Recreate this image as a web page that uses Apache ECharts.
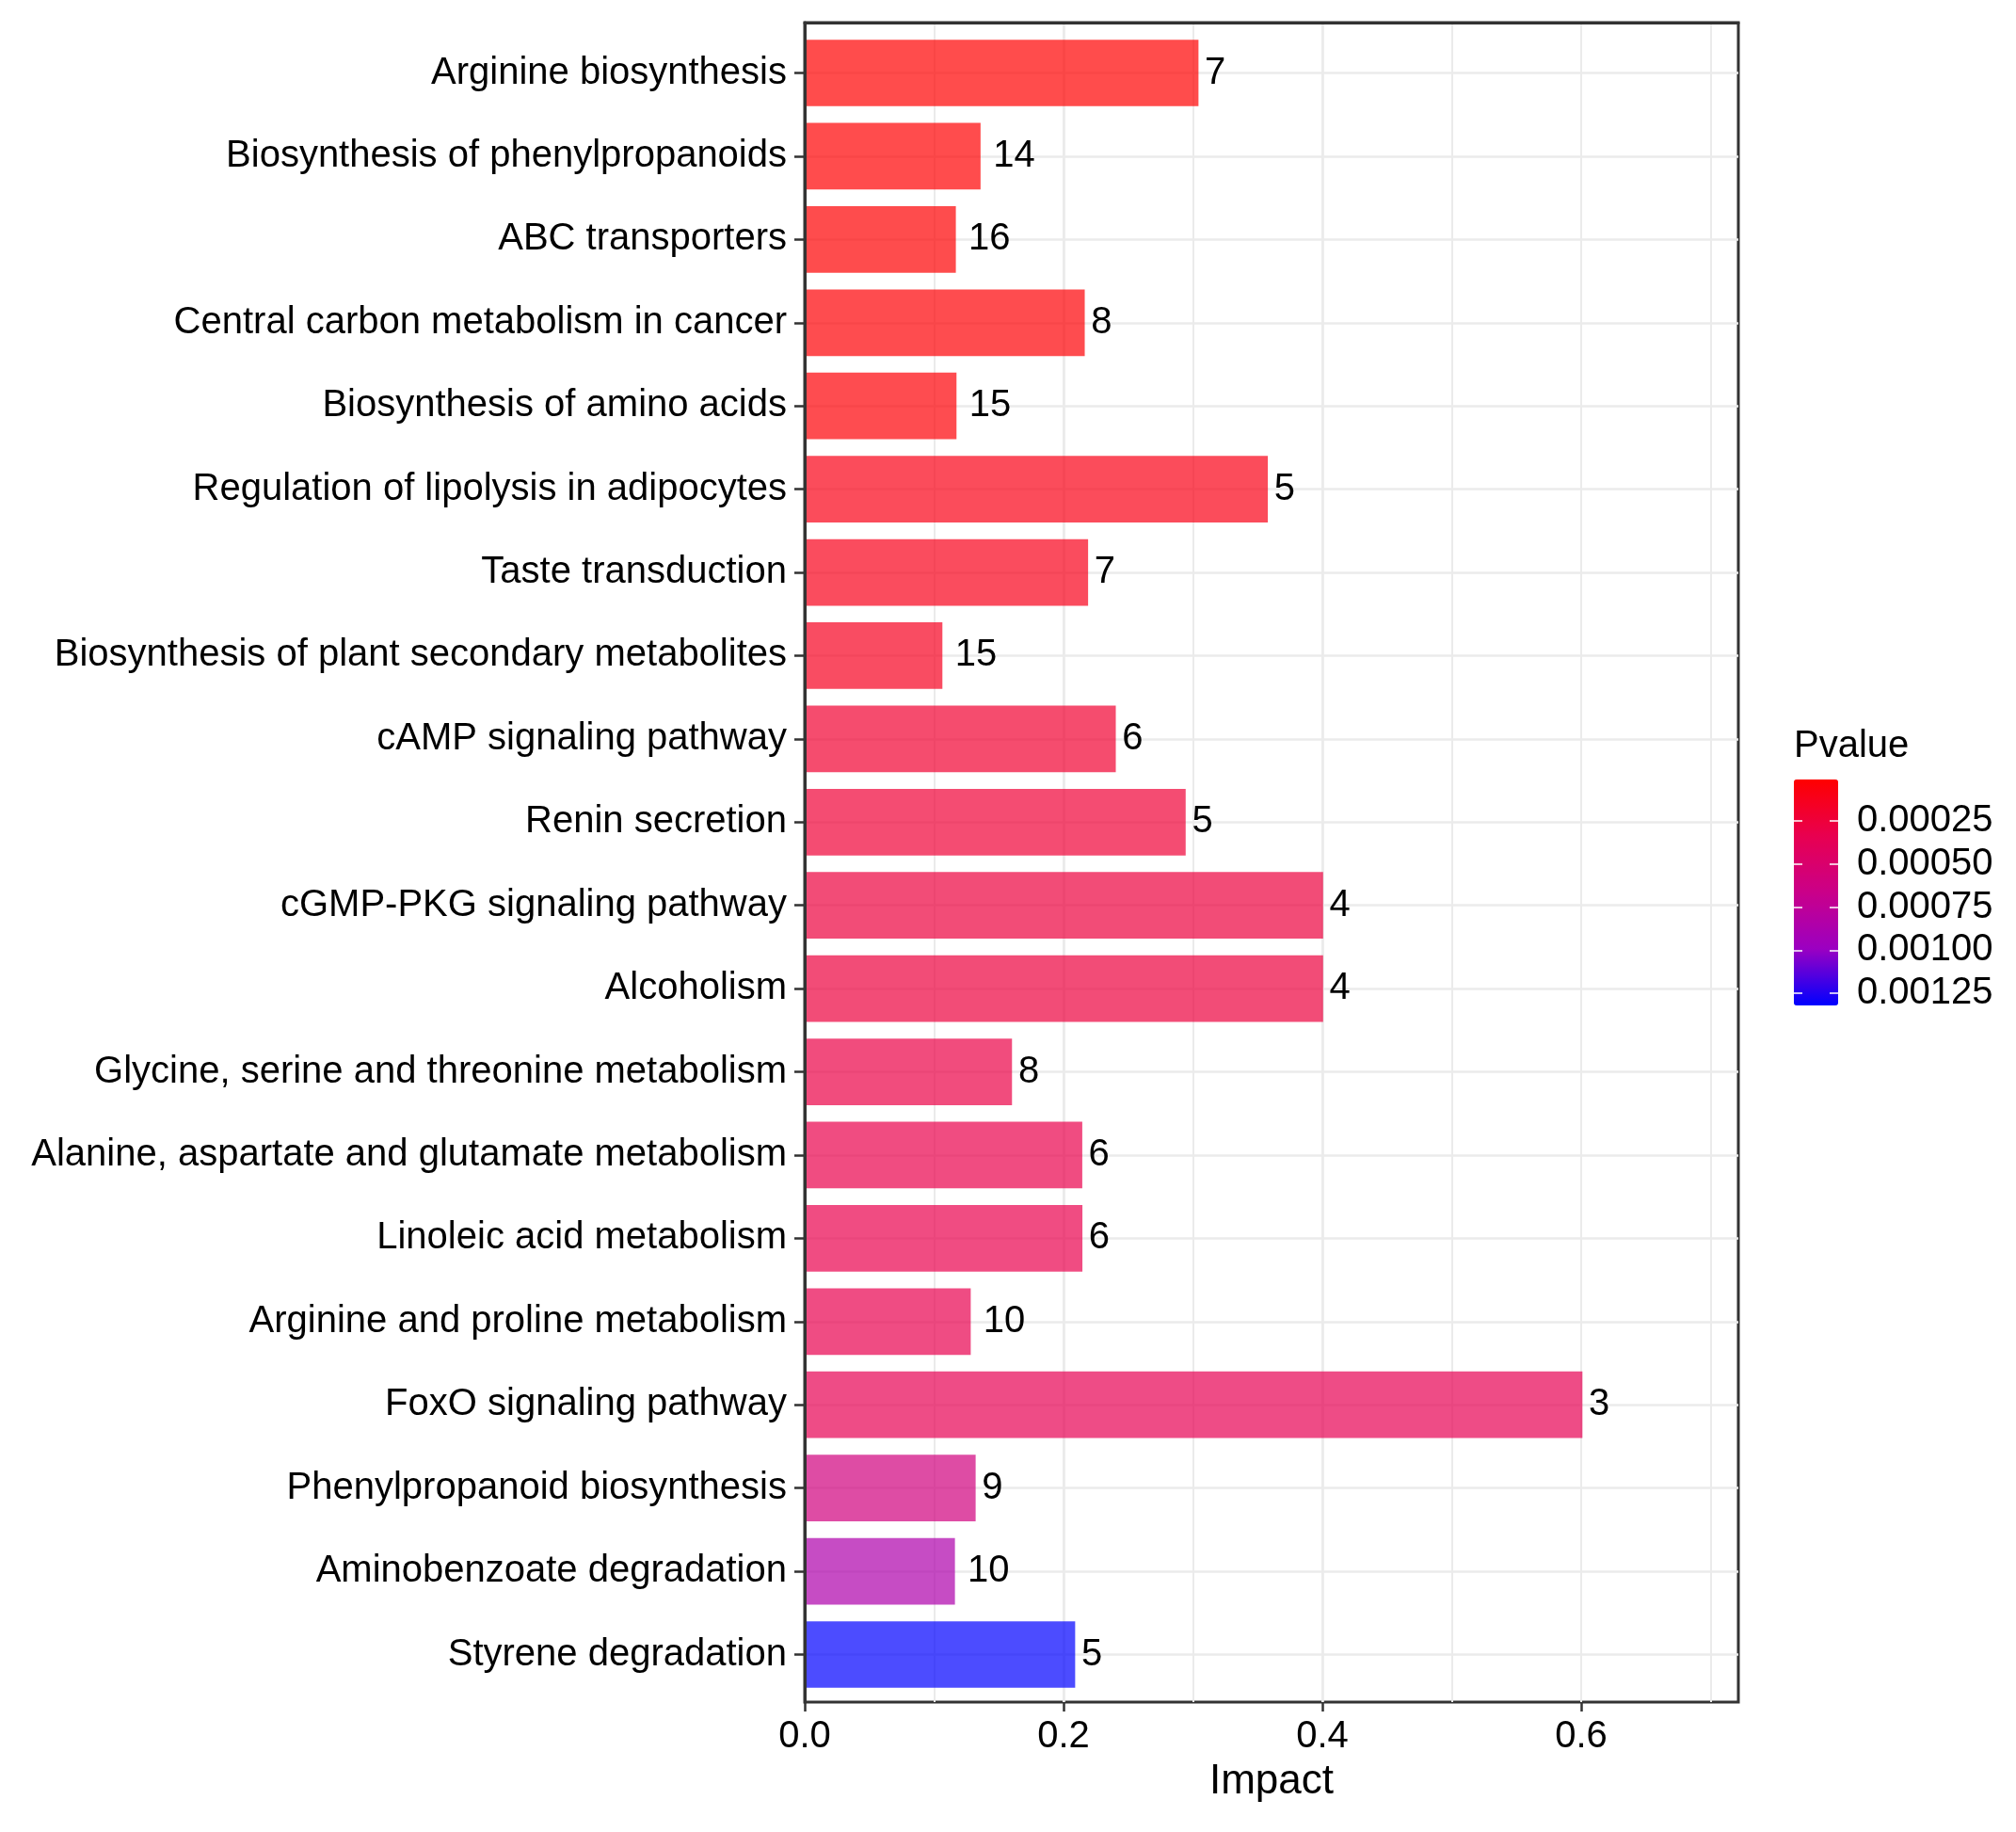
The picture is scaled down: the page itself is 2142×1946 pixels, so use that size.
<!DOCTYPE html>
<html><head><meta charset="utf-8">
<script src="https://cdn.jsdelivr.net/npm/echarts@6/dist/echarts.min.js"></script>
<style>html,body{margin:0;padding:0;background:#fff}#c{width:2142px;height:1946px}</style>
</head><body><div id="c"></div>
<script>
const pathways = [
  'Arginine biosynthesis',
  'Biosynthesis of phenylpropanoids',
  'ABC transporters',
  'Central carbon metabolism in cancer',
  'Biosynthesis of amino acids',
  'Regulation of lipolysis in adipocytes',
  'Taste transduction',
  'Biosynthesis of plant secondary metabolites',
  'cAMP signaling pathway',
  'Renin secretion',
  'cGMP-PKG signaling pathway',
  'Alcoholism',
  'Glycine, serine and threonine metabolism',
  'Alanine, aspartate and glutamate metabolism',
  'Linoleic acid metabolism',
  'Arginine and proline metabolism',
  'FoxO signaling pathway',
  'Phenylpropanoid biosynthesis',
  'Aminobenzoate degradation',
  'Styrene degradation'
];
const impact = [0.3043, 0.1359, 0.1168, 0.2164, 0.1173, 0.3579, 0.2190, 0.1064, 0.2404, 0.2944,
                0.4006, 0.4006, 0.1602, 0.2145, 0.2146, 0.1283, 0.6010, 0.1321, 0.1161, 0.2090];
const hits = [7, 14, 16, 8, 15, 5, 7, 15, 6, 5, 4, 4, 8, 6, 6, 10, 3, 9, 10, 5];
const pvalue = [0.00001, 0.000015, 0.00002, 0.000025, 0.000035, 0.0001, 0.000115, 0.00014, 0.000205, 0.00023,
                0.00026, 0.00026, 0.000295, 0.00032, 0.000325, 0.000335, 0.00035, 0.0006, 0.00086, 0.00132];
const pvalueTicks = [0.00025, 0.0005, 0.00075, 0.001, 0.00125];
const impactTicks = [0, 0.2, 0.4, 0.6];
const impactMax = 0.7215;
const rampColors = ['#FF0000', '#E80050', '#CA0089', '#9B00C2', '#0000FF'];

const FONT = 'Liberation Sans, Arial, Helvetica, sans-serif';
const pMin = Math.min(...pvalue), pMax = Math.max(...pvalue);

const chart = echarts.init(document.getElementById('c'), null, {renderer: 'canvas'});
const data = pathways.map((name, i) => ({
  value: [impact[i], name, pvalue[i], hits[i]],
  label: {distance: String(hits[i]).length * 6.7}
}));

chart.setOption({
  animation: false,
  backgroundColor: '#ffffff',
  textStyle: {fontFamily: FONT},
  title: {
    text: 'Pvalue', left: 1906, top: 773, padding: 0,
    textStyle: {fontSize: 40, fontWeight: 'normal', color: '#000', fontFamily: FONT}
  },
  grid: [
    {left: 855, top: 77.5, width: 992, height: 1680, show: false, outerBoundsMode: 'none'},
    {left: 855, top: 24, width: 992, height: 1784, show: true, borderColor: '#333333', borderWidth: 3,
     backgroundColor: 'transparent', outerBoundsMode: 'none'},
    {left: 1906, top: 828, width: 47, height: 240, show: false, outerBoundsMode: 'none'}
  ],
  xAxis: [
    {gridIndex: 0, type: 'value', min: 0, max: impactMax, show: false},
    {gridIndex: 1, type: 'value', min: 0, max: impactMax, interval: 0.2,
     axisLine: {show: false},
     axisTick: {show: true, length: 10, customValues: impactTicks, lineStyle: {color: '#333', width: 2.5}},
     axisLabel: {show: true, margin: 17, fontSize: 40, color: '#000', fontFamily: FONT,
                 customValues: impactTicks, formatter: v => Number(v).toFixed(1)},
     splitLine: {show: true, showMinLine: false, showMaxLine: false, lineStyle: {color: '#EBEBEB', width: 2.7}},
     name: 'Impact', nameLocation: 'middle', nameGap: 63,
     nameTextStyle: {fontSize: 44, color: '#000', fontFamily: FONT}},
    {gridIndex: 1, type: 'value', min: 0, max: impactMax, interval: 0.1,
     axisLine: {show: false}, axisTick: {show: false}, axisLabel: {show: false},
     splitLine: {show: true, showMinLine: false, showMaxLine: false, lineStyle: {color: '#EBEBEB', width: 2}}},
    {gridIndex: 2, type: 'category', data: [''], show: false},
    {gridIndex: 1, type: 'value', min: 0, max: impactMax, z: 10,
     axisLine: {show: true, onZero: false, lineStyle: {color: '#333', width: 3}},
     axisTick: {show: false}, axisLabel: {show: false}, splitLine: {show: false}}
  ],
  yAxis: [
    {gridIndex: 0, type: 'category', data: pathways, inverse: true, boundaryGap: false,
     axisLine: {show: false},
     axisTick: {show: true, length: 11, interval: 0, lineStyle: {color: '#333', width: 2.5}},
     axisLabel: {margin: 19, fontSize: 40, color: '#000', interval: 0, fontFamily: FONT},
     splitLine: {show: true, interval: 0, lineStyle: {color: '#EBEBEB', width: 2.7}}},
    {gridIndex: 1, type: 'value', min: 0, max: 1, z: 10,
     axisLine: {show: true, onZero: false, lineStyle: {color: '#333', width: 3}},
     axisTick: {show: false}, axisLabel: {show: false}, splitLine: {show: false}},
    {gridIndex: 2, type: 'value', min: pMin, max: pMax, inverse: true, position: 'right', z: 10,
     axisLine: {show: false},
     axisTick: {show: true, inside: true, length: 9, customValues: pvalueTicks, lineStyle: {color: '#ffffff', width: 1.5}},
     axisLabel: {show: true, margin: 20, fontSize: 40, color: '#000', fontFamily: FONT,
                 customValues: pvalueTicks, formatter: v => Number(v).toFixed(5)},
     splitLine: {show: false}},
    {gridIndex: 2, type: 'value', min: pMin, max: pMax, inverse: true, position: 'left', z: 10,
     axisLine: {show: false},
     axisTick: {show: true, inside: true, length: 9, customValues: pvalueTicks, lineStyle: {color: '#ffffff', width: 1.5}},
     axisLabel: {show: false}, splitLine: {show: false}}
  ],
  visualMap: {
    type: 'continuous', seriesIndex: 0, dimension: 2, min: pMin, max: pMax,
    inRange: {color: rampColors, colorAlpha: [0.7, 0.7]},
    controller: {inRange: {color: rampColors, colorAlpha: [1, 1]}},
    show: true, orient: 'vertical', inverse: true,
    left: 1906, top: 828, itemWidth: 47, itemHeight: 240, padding: 0,
    calculable: false, hoverLink: false, text: null, z: 2
  },
  series: [{
    type: 'bar', xAxisIndex: 0, yAxisIndex: 0, data: data,
    encode: {x: 0, y: 1}, barWidth: '80%', clip: false,
    label: {show: true, position: 'right', fontSize: 40, color: '#000', fontFamily: FONT,
            formatter: p => String(p.value[3])}
  }]
});
</script></body></html>
